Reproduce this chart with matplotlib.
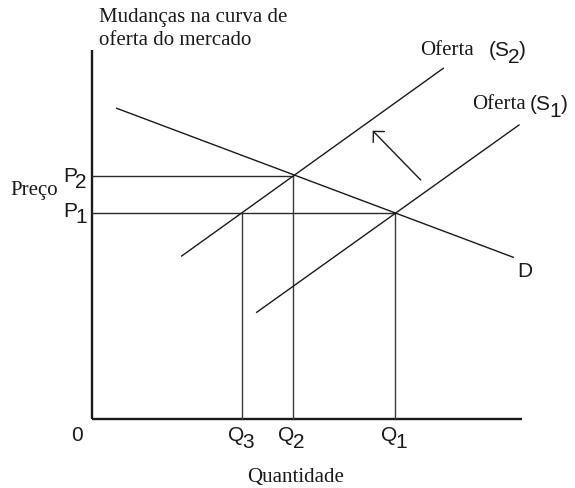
import matplotlib
matplotlib.use("Agg")
import matplotlib.pyplot as plt
from matplotlib import font_manager

# ---- data (chart units: origin at the axes corner) ----
q_names = ["3", "2", "1"]
q_values = [150.6, 201.0, 303.3]          # Q3, Q2, Q1
p_names = ["2", "1"]
p_values = [243.3, 205.7]                 # P2, P1
p_reach = [201.0, 303.3]                  # horizontal guide ends at Q2, Q1
q_reach = [205.7, 243.3, 205.7]           # vertical guide tops (P1, P2, P1)

demand_x = [25.0, 421.6]
demand_y = [310.7, 161.7]
supply2_x = [90.0, 351.6]
supply2_y = [163.0, 350.7]
supply1_x = [165.0, 427.3]
supply1_y = [106.7, 294.0]
shift_from = (329.0, 239.0)
shift_to = (281.0, 288.3)

x_axis_end = 430.0
y_axis_end = 369.0

W, H = 575, 488
ox, oy = 91.7, 419.0   # pixel position of origin

names = {f.name for f in font_manager.fontManager.ttflist}
SANS = "Liberation Sans Narrow" if "Liberation Sans Narrow" in names else "Liberation Sans"
SERIF = "Liberation Serif"
SANS_SIZE = 16.5 if SANS == "Liberation Sans Narrow" else 15
ink = "#1a1a1a"

fig = plt.figure(figsize=(W / 100, H / 100), dpi=100)
ax = fig.add_axes([0, 0, 1, 1])
ax.set_xlim(-ox, W - ox)
ax.set_ylim(oy - H, oy)
ax.axis("off")

# axes
ax.plot([0, 0], [0, y_axis_end], color=ink, lw=1.7, solid_capstyle="butt")
ax.plot([0, x_axis_end], [0, 0], color=ink, lw=1.7, solid_capstyle="butt")

# guides
for p, r in zip(p_values, p_reach):
    ax.plot([0, r], [p, p], color="#2a2a2a", lw=1.0)
for q, t in zip(q_values, q_reach):
    ax.plot([q, q], [0, t], color="#3a3a3a", lw=1.0)

# curves
ax.plot(demand_x, demand_y, color=ink, lw=1.0)
ax.plot(supply2_x, supply2_y, color=ink, lw=1.0)
ax.plot(supply1_x, supply1_y, color=ink, lw=1.0)

ax.annotate("", xy=shift_to, xytext=shift_from,
            arrowprops=dict(arrowstyle="->,head_length=0.4,head_width=0.4",
                            color=ink, lw=1.0, shrinkA=0, shrinkB=0,
                            mutation_scale=14))

def px(x, y):
    return x - ox, oy - y

DROP = 4.8  # points

def sub_label(main, sub, x_main, y_main, close=None, ha="left"):
    t = ax.text(*px(x_main, y_main), main, family=SANS, fontsize=SANS_SIZE,
                ha=ha, va="baseline", color=ink)
    s = ax.annotate(sub, xy=(1, 0), xycoords=t, xytext=(-1.2, -DROP),
                    textcoords="offset points", family=SANS,
                    fontsize=SANS_SIZE, ha="left", va="bottom", color=ink)
    if close:
        ax.annotate(close, xy=(1, 0), xycoords=s, xytext=(-0.3, DROP),
                    textcoords="offset points", family=SANS,
                    fontsize=SANS_SIZE, ha="left", va="bottom", color=ink)

# P labels
sub_label("P", p_names[0], 63.0, 181.7)
sub_label("P", p_names[1], 63.0, 216.7)
# Q labels (Q glyph ends at the guide line)
for nm, q in zip(q_names, q_values):
    sub_label("Q", nm, q + ox + 2.0, 441.0, ha="right")

ax.text(*px(71.0, 441.0), "0", family=SANS, fontsize=SANS_SIZE, ha="left",
        va="baseline", color=ink)
ax.text(*px(517.5, 277.0), "D", family=SANS, fontsize=SANS_SIZE, ha="left",
        va="baseline", color=ink)

# supply labels
ax.text(*px(420.0, 55.0), "Oferta", family=SERIF, fontsize=15, ha="left",
        va="baseline", color=ink)
sub_label("(S", "2", 488.5, 56.5, close=")")
ax.text(*px(471.7, 109.0), "Oferta", family=SERIF, fontsize=15, ha="left",
        va="baseline", color=ink)
sub_label("(S", "1", 530.0, 110.5, close=")")

# titles
ax.text(*px(99.0, 22.0), "Mudanças na curva de", family=SERIF, fontsize=15,
        ha="left", va="baseline", color=ink)
ax.text(*px(99.0, 45.0), "oferta do mercado", family=SERIF, fontsize=15,
        ha="left", va="baseline", color=ink)
ax.text(*px(10.0, 195.0), "Preço", family=SERIF, fontsize=15,
        ha="left", va="baseline", color=ink)
ax.text(*px(296.0, 482.0), "Quantidade", family=SERIF, fontsize=15,
        ha="center", va="baseline", color=ink)

fig.savefig("out.png", dpi=100)
